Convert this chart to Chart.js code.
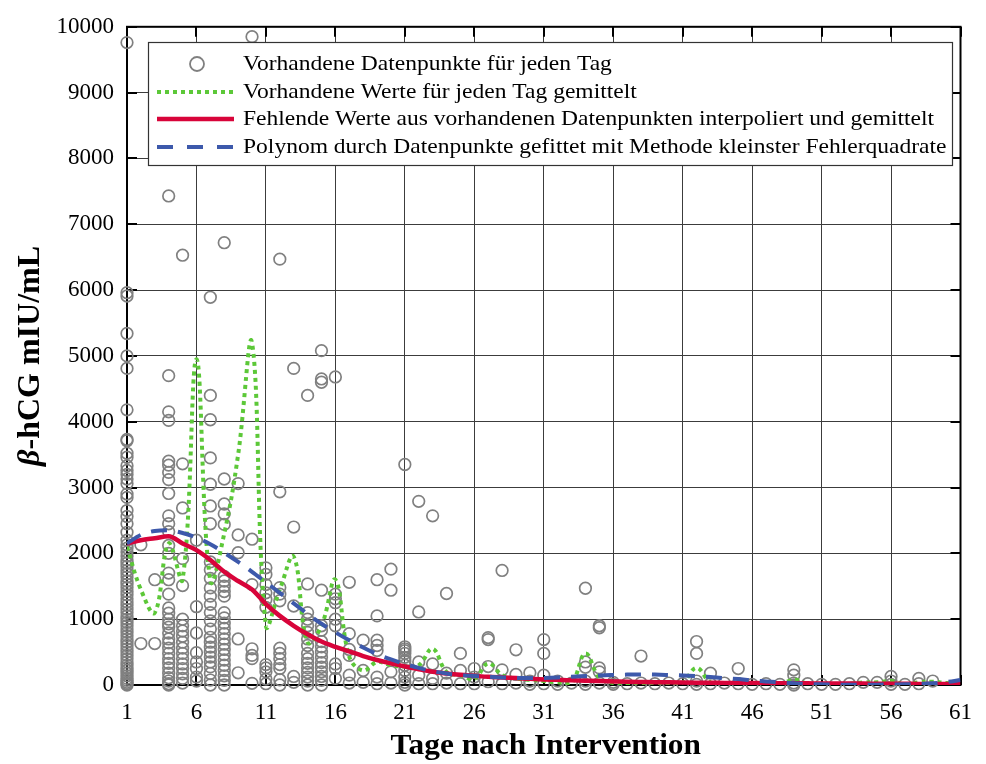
<!DOCTYPE html>
<html lang="de">
<head>
    <meta charset="UTF-8">
    <title>β-hCG nach Intervention</title>
    <script src="https://cdn.jsdelivr.net/npm/chart.js"></script>
    <style>
        html, body { margin: 0; padding: 0; background: #fff; }
        #box { width: 986px; height: 764px; }
    </style>
</head>
<body>
<div id="box">
    <canvas id="hcgChart" width="986" height="764"></canvas>
</div>

<script>
    // Tage auf der x-Achse
    const tage = [1, 2, 3, 4, 5, 6, 7, 8, 9, 10, 11, 12, 13, 14, 15, 16, 17, 18, 19, 20,
        21, 22, 23, 24, 25, 26, 27, 28, 29, 30, 31, 32, 33, 34, 35, 36, 37, 38, 39, 40,
        41, 42, 43, 44, 45, 46, 47, 48, 49, 50, 51, 52, 53, 54, 55, 56, 57, 58, 59, 60, 61];
    const xTicks = [1, 6, 11, 16, 21, 26, 31, 36, 41, 46, 51, 56, 61];
    const yTicks = [0, 1000, 2000, 3000, 4000, 5000, 6000, 7000, 8000, 9000, 10000];

    // Messwerte je Tag (Index 0 = Tag 1)
    const messwerte = [
        [9760, 5960, 5910, 5340, 5000, 4810, 4180, 3730, 3710, 3520, 3460, 3330, 3260, 3200, 3130, 3060, 2900, 2850,
         2650, 2560, 2450, 2320, 2200, 2130, 2080, 2020, 1960, 1900, 1850, 1800, 1740, 1690, 1640, 1580, 1530, 1480,
         1420, 1370, 1310, 1260, 1210, 1150, 1100, 1050, 1000, 950, 900, 850, 800, 750, 700, 650, 600, 550, 500, 450,
         400, 350, 300, 260, 220, 180, 140, 100, 70, 40, 20, 0],
        [2130, 630],
        [1600, 630],
        [9620, 7430, 4700, 4150, 4020, 3400, 3340, 3230, 3120, 2910, 2570, 2450, 2330, 2120, 2000, 1700, 1600, 1380,
         1170, 1090, 1000, 930, 880, 790, 700, 640, 560, 480, 400, 330, 260, 180, 110, 60, 20, 0],
        [6530, 3360, 2690, 1920, 1510, 1000, 900, 820, 740, 650, 560, 480, 400, 320, 250, 170, 100, 30],
        [2200, 1190, 790, 490, 350, 250, 120, 60],
        [5890, 4400, 4030, 3450, 3050, 2720, 2450, 1870, 1750, 1620, 1475, 1350, 1225, 1100, 975, 850, 725, 650,
         575, 500, 425, 350, 275, 175, 75, 0],
        [6720, 3130, 2750, 2600, 2440, 1650, 1580, 1500, 1420, 1350, 1100, 1020, 940, 860, 780, 700, 620, 540, 460,
         380, 300, 220, 140, 70, 0],
        [3060, 2280, 2010, 700, 185],
        [9850, 2215, 1525, 550, 450, 400, 25],
        [1780, 1680, 1525, 1400, 1300, 1180, 310, 260, 200, 90, 20],
        [6470, 2935, 1480, 1380, 1280, 560, 480, 400, 310, 250, 80, 0],
        [4810, 2400, 1200, 130, 40],
        [4400, 1535, 1100, 1000, 900, 800, 700, 600, 480, 400, 330, 260, 190, 120, 60, 0],
        [5080, 4650, 4600, 1440, 900, 830, 660, 580, 500, 420, 340, 270, 200, 130, 70, 0],
        [4680, 1380, 1310, 1250, 1000, 900, 320, 250, 100],
        [1560, 780, 540, 450, 150, 30],
        [680, 220, 40],
        [1600, 1050, 680, 600, 525, 120, 20],
        [1760, 1440, 200, 30],
        [3350, 580, 550, 520, 480, 420, 360, 300, 220, 120, 40, 0],
        [2790, 1110, 350, 150, 20],
        [2570, 320, 100, 20],
        [1390, 180, 30],
        [480, 220, 20],
        [250, 120, 20],
        [720, 690, 280, 50],
        [1740, 230, 20],
        [535, 160, 30],
        [185, 60, 10],
        [690, 480, 150, 20],
        [60, 10],
        [30],
        [1470, 350, 270, 60, 10],
        [900, 870, 260, 200, 30],
        [40, 10],
        [20],
        [440, 30],
        [20],
        [30],
        [20],
        [660, 480, 60, 10],
        [180, 20],
        [30],
        [250, 20],
        [10],
        [20],
        [10],
        [230, 150, 30, 0],
        [20],
        [10],
        [10],
        [20],
        [40],
        [40],
        [130, 60, 10],
        [10],
        [100, 20],
        [60],
        [],
        []
    ];

    // Mittelwert der vorhandenen Werte je Tag
    const mittelwerte = [2100, 1450, 1100, 2150, 1600, 4950, 1580, 2300, 3500, 5200,
        900, 1450, 1950, 650, 900, 1600, 430, 220, 350, 300,
        280, 300, 550, 200, 150, 90, 330, 150, 100, 80,
        60, 40, 30, 480, 110, 30, 20, 30, 20, 20,
        40, 260, 40, 20, 30, 10, 20, 10, 80, 20,
        10, 10, 20, 40, 40, 60, 10, 40, 50, 30, 20];

    // interpolierte und gemittelte Werte
    const interpoliert = [2150, 2200, 2230, 2260, 2150, 2050, 1900, 1720, 1580, 1450,
        1230, 1050, 900, 770, 660, 580, 510, 440, 380, 330,
        280, 240, 200, 175, 155, 140, 125, 115, 105, 95,
        85, 78, 72, 66, 60, 55, 50, 46, 42, 40,
        38, 36, 34, 32, 30, 29, 28, 27, 26, 25,
        24, 23, 22, 21, 20, 19, 18, 17, 16, 15, 15];

    // Polynom-Fit (kleinste Fehlerquadrate)
    const polynom = [2150, 2280, 2340, 2350, 2310, 2240, 2140, 2010, 1870, 1720,
        1560, 1400, 1240, 1080, 930, 800, 680, 570, 470, 390,
        320, 260, 210, 175, 150, 135, 125, 115, 108, 105,
        108, 115, 125, 135, 145, 152, 158, 160, 158, 152,
        145, 135, 120, 105, 90, 70, 55, 40, 25, 15,
        10, 5, 5, 5, 5, 8, 10, 15, 25, 45, 75];

    const legendTexte = [
        'Vorhandene Datenpunkte für jeden Tag',
        'Vorhandene Werte für jeden Tag gemittelt',
        'Fehlende Werte aus vorhandenen Datenpunkten interpoliert und gemittelt',
        'Polynom durch Datenpunkte gefittet mit Methode kleinster Fehlerquadrate'
    ];

    const GRAU = '#808080';
    const GRUEN = '#5cc838';
    const ROT = '#d8043a';
    const BLAU = '#3d59ab';
    const SCHRIFT = '"Liberation Serif", "Times New Roman", serif';

    const punkte = [];
    messwerte.forEach((werte, i) => {
        werte.forEach(v => punkte.push({ x: tage[i], y: v }));
    });

    const alsPunkte = (reihe) => reihe.map((v, i) => ({ x: tage[i], y: v }));

    // Rahmen mit Ticks nach innen und Achsentitel
    const rahmenPlugin = {
        id: 'rahmen',
        beforeDatasetsDraw(chart) {
            const { ctx, chartArea: a, scales } = chart;
            ctx.save();
            ctx.strokeStyle = '#000';
            ctx.lineWidth = 2;
            ctx.beginPath();
            yTicks.forEach(t => {
                const y = Math.round(scales.y.getPixelForValue(t));
                ctx.moveTo(a.left, y); ctx.lineTo(a.left + 10, y);
                ctx.moveTo(a.right, y); ctx.lineTo(a.right - 10, y);
            });
            xTicks.forEach(t => {
                const x = Math.round(scales.x.getPixelForValue(t));
                ctx.moveTo(x, a.bottom); ctx.lineTo(x, a.bottom - 10);
                ctx.moveTo(x, a.top); ctx.lineTo(x, a.top + 10);
            });
            ctx.stroke();
            ctx.strokeRect(a.left, a.top, a.right - a.left, a.bottom - a.top);
            ctx.restore();
        },
        afterDraw(chart) {
            const { ctx, chartArea: a } = chart;
            ctx.save();
            ctx.fillStyle = '#000';
            ctx.textBaseline = 'middle';

            // x-Achsentitel, leicht in die Breite gezogen
            ctx.save();
            ctx.translate((a.left + a.right) / 2 + 2, 747);
            ctx.scale(1.08, 1);
            ctx.font = 'bold 29px ' + SCHRIFT;
            ctx.textAlign = 'center';
            ctx.fillText('Tage nach Intervention', 0, 0);
            ctx.restore();

            // y-Achsentitel mit kursivem Beta
            ctx.translate(31, (a.top + a.bottom) / 2);
            ctx.rotate(-Math.PI / 2);
            const teil1 = 'β';
            const teil2 = '-hCG mIU/mL';
            ctx.font = 'italic bold 32px ' + SCHRIFT;
            const w1 = ctx.measureText(teil1).width;
            ctx.font = 'bold 32px ' + SCHRIFT;
            const w2 = ctx.measureText(teil2).width;
            const x = -(w1 + w2) / 2;
            ctx.textAlign = 'left';
            ctx.font = 'italic bold 32px ' + SCHRIFT;
            ctx.fillText(teil1, x, 0);
            ctx.font = 'bold 32px ' + SCHRIFT;
            ctx.fillText(teil2, x + w1, 0);
            ctx.restore();
        }
    };

    // Legende im Diagramm oben
    const legendePlugin = {
        id: 'legende',
        afterDatasetsDraw(chart) {
            const ctx = chart.ctx;
            const x0 = 148, y0 = 42, b = 804, h = 123;
            const zeilen = [64, 92, 119, 147];
            ctx.save();
            ctx.fillStyle = '#fff';
            ctx.fillRect(x0, y0, b, h);
            ctx.strokeStyle = '#333';
            ctx.lineWidth = 1.2;
            ctx.strokeRect(x0 + 0.5, y0 + 0.5, b, h);

            // Symbole
            ctx.strokeStyle = GRAU;
            ctx.lineWidth = 1.8;
            ctx.beginPath();
            ctx.arc(197, zeilen[0], 7, 0, Math.PI * 2);
            ctx.stroke();

            const linie = (y, farbe, dash, breite) => {
                ctx.strokeStyle = farbe;
                ctx.lineWidth = breite;
                ctx.setLineDash(dash);
                ctx.beginPath();
                ctx.moveTo(157, y);
                ctx.lineTo(234, y);
                ctx.stroke();
            };
            linie(zeilen[1], GRUEN, [4, 4], 4);
            linie(zeilen[2], ROT, [], 4.5);
            linie(zeilen[3], BLAU, [16, 14], 4);
            ctx.setLineDash([]);

            ctx.fillStyle = '#000';
            ctx.font = '21px ' + SCHRIFT;
            ctx.textAlign = 'left';
            ctx.textBaseline = 'middle';
            legendTexte.forEach((t, i) => {
                ctx.save();
                ctx.translate(243, zeilen[i]);
                ctx.scale(1.12, 1);
                ctx.fillText(t, 0, 0);
                ctx.restore();
            });
            ctx.restore();
        }
    };

    const config = {
        data: {
            datasets: [
                {
                    type: 'line',
                    label: legendTexte[3],
                    data: alsPunkte(polynom),
                    borderColor: BLAU,
                    borderWidth: 4,
                    borderDash: [16, 11],
                    pointRadius: 0,
                    cubicInterpolationMode: 'monotone',
                    order: 1
                },
                {
                    type: 'line',
                    label: legendTexte[2],
                    data: alsPunkte(interpoliert),
                    borderColor: ROT,
                    borderWidth: 4.5,
                    pointRadius: 0,
                    cubicInterpolationMode: 'monotone',
                    order: 2
                },
                {
                    type: 'line',
                    label: legendTexte[1],
                    data: alsPunkte(mittelwerte),
                    borderColor: GRUEN,
                    borderWidth: 4,
                    borderDash: [4, 4],
                    pointRadius: 0,
                    tension: 0.4,
                    order: 3
                },
                {
                    type: 'scatter',
                    label: legendTexte[0],
                    data: punkte,
                    borderColor: GRAU,
                    backgroundColor: 'rgba(0,0,0,0)',
                    borderWidth: 1.7,
                    pointRadius: 5.8,
                    clip: false,
                    order: 4
                }
            ]
        },
        options: {
            responsive: false,
            animation: false,
            devicePixelRatio: 1,
            layout: { padding: { top: 18, right: 13, left: 0, bottom: 0 } },
            plugins: {
                legend: { display: false },
                tooltip: { enabled: false }
            },
            scales: {
                x: {
                    type: 'linear',
                    min: 1,
                    max: 61,
                    afterBuildTicks: (axis) => { axis.ticks = xTicks.map(v => ({ value: v })); },
                    afterFit: (axis) => { axis.height = 79; },
                    grid: { color: '#3c3c3c', lineWidth: 1, drawTicks: false },
                    border: { display: false },
                    ticks: {
                        padding: 14,
                        color: '#000',
                        maxRotation: 0,
                        callback: (v) => String(v),
                        font: { family: SCHRIFT, size: 23 }
                    }
                },
                y: {
                    min: 0,
                    max: 10000,
                    afterBuildTicks: (axis) => { axis.ticks = yTicks.map(v => ({ value: v })); },
                    afterFit: (axis) => { axis.width = 127; },
                    grid: { color: '#3c3c3c', lineWidth: 1, drawTicks: false },
                    border: { display: false },
                    ticks: {
                        padding: 13,
                        color: '#000',
                        callback: (v) => String(v),
                        font: { family: SCHRIFT, size: 23 }
                    }
                }
            }
        },
        plugins: [rahmenPlugin, legendePlugin]
    };

    new Chart(document.getElementById('hcgChart').getContext('2d'), config);
</script>
</body>
</html>
